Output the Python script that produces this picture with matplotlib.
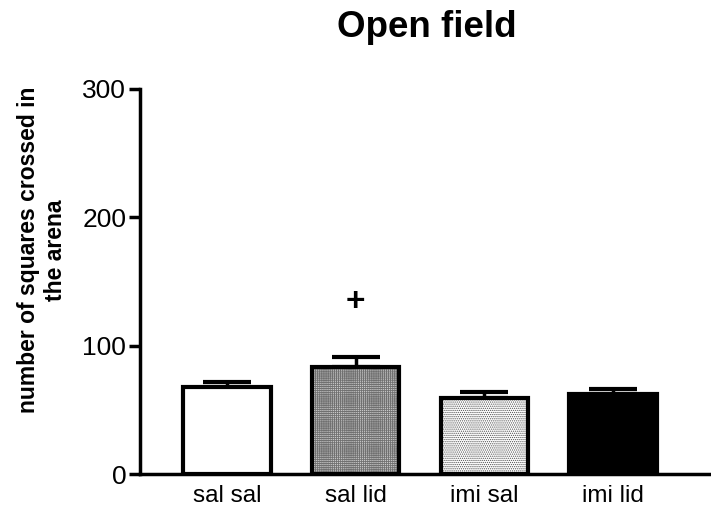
import matplotlib
matplotlib.use("Agg")
import matplotlib.pyplot as plt

plt.rcParams['font.family'] = ['Liberation Sans', 'DejaVu Sans']
plt.rcParams['hatch.linewidth'] = 0.6

categories = ["sal sal", "sal lid", "imi sal", "imi lid"]
means = [68, 83, 59.5, 62]
sems = [4, 8.5, 4.5, 4]
y_ticks = [0, 100, 200, 300]
marker_value = 133.5
marker_index = 1

fig = plt.figure(figsize=(7.11, 5.15), dpi=100)
ax = fig.add_axes([0.197, 0.0796, 0.803, 0.7476])

faces = ["white", "#c8c8c8", "white", "black"]
hatch_cols = [None, "#707070", "#505050", None]
hatches = [None, "++++++++", "........", None]
x = list(range(len(categories)))
for i in x:
    if hatches[i]:
        ax.bar(i, means[i], width=0.68, facecolor=faces[i], edgecolor=hatch_cols[i],
               linewidth=0, hatch=hatches[i], zorder=2)
        ax.bar(i, means[i], width=0.68, fill=False, edgecolor="black",
               linewidth=3, zorder=3)
    else:
        ax.bar(i, means[i], width=0.68, facecolor=faces[i], edgecolor="black",
               linewidth=3, zorder=2)
    ax.errorbar(i, means[i], yerr=[[0], [sems[i]]], fmt='none', ecolor='black',
                elinewidth=2.5, capsize=17, capthick=3, zorder=1)

ax.text(marker_index, marker_value, "+", ha='center', va='center',
        fontsize=24, fontweight='bold')

ax.set_xlim(-0.674, 3.76)
ax.set_ylim(0, 300)
ax.set_yticks(y_ticks)
ax.set_yticklabels([str(t) for t in y_ticks], fontsize=19)
ax.set_xticks(x)
ax.set_xticklabels(categories, fontsize=17.5)
ax.tick_params(axis='x', length=0, pad=8)
ax.tick_params(axis='y', length=8, width=2.5, pad=2)
for s in ['top', 'right']:
    ax.spines[s].set_visible(False)
for s in ['left', 'bottom']:
    ax.spines[s].set_linewidth(2.5)

fig.text(42 / 711, 1 - 250 / 515, "number of squares crossed in\nthe arena",
         rotation=90, ha='center', va='center', multialignment='center',
         fontsize=16.5, fontweight='bold')
fig.text(0.601, 0.946, "Open field", ha='center', va='center',
         fontsize=26.5, fontweight='bold')

fig.savefig("out.png", dpi=100)
